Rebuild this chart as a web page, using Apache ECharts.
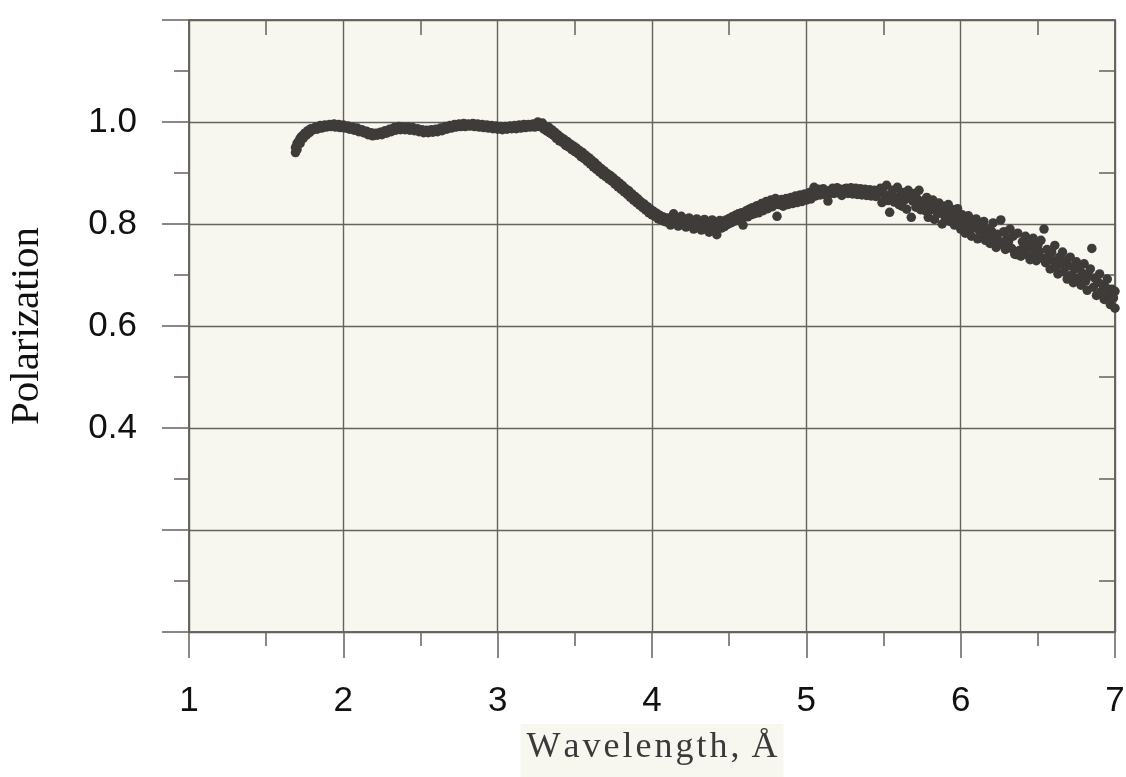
<!DOCTYPE html>
<html>
<head>
<meta charset="utf-8">
<title>Polarization vs Wavelength</title>
<script src="https://cdn.jsdelivr.net/npm/echarts@6/dist/echarts.min.js"></script>
<style>
  html, body { margin: 0; padding: 0; background: #ffffff; }
  #chart { width: 1126px; height: 777px; }
</style>
</head>
<body>
<div id="chart"></div>
<script>
// Measured polarization [wavelength (Å), polarization], grouped by spectral region.
const plateau = [
  [1.69,0.940],[1.69,0.950],[1.70,0.946],[1.70,0.958],[1.71,0.962],[1.72,0.968],[1.72,0.958],[1.73,0.972],
  [1.74,0.968],[1.75,0.978],[1.76,0.974],[1.77,0.983],[1.78,0.979],[1.79,0.987],[1.80,0.984],[1.82,0.990],
  [1.83,0.986],[1.85,0.993],[1.86,0.988],[1.88,0.994],[1.89,0.990],[1.91,0.995],[1.92,0.991],[1.94,0.996],
  [1.95,0.990],[1.97,0.995],[1.98,0.989],[2.00,0.994],[2.01,0.988],[2.03,0.992],[2.04,0.986],[2.06,0.990],
  [2.07,0.984],[2.09,0.988],[2.10,0.981],[2.12,0.985],[2.13,0.979],[2.15,0.982],[2.16,0.975],[2.18,0.979],
  [2.19,0.973],[2.21,0.978],[2.22,0.974],[2.24,0.980],[2.25,0.975],[2.27,0.983],[2.28,0.978],[2.30,0.986],
  [2.31,0.981],[2.33,0.989],[2.34,0.984],[2.36,0.991],[2.37,0.985],[2.39,0.990],[2.40,0.985],[2.42,0.990],
  [2.43,0.984],[2.45,0.989],[2.46,0.983],[2.48,0.987],[2.49,0.981],[2.51,0.985],[2.52,0.979],[2.54,0.984],
  [2.55,0.979],[2.57,0.985],[2.58,0.980],[2.60,0.986],[2.61,0.981],[2.63,0.988],[2.64,0.983],[2.66,0.991],
  [2.67,0.986],[2.69,0.993],[2.70,0.988],[2.72,0.995],[2.73,0.990],[2.75,0.996],[2.76,0.991],[2.78,0.997],
  [2.79,0.991],[2.81,0.996],[2.82,0.992],[2.84,0.997],[2.85,0.991],[2.87,0.996],[2.88,0.990],[2.90,0.995],
  [2.91,0.989],[2.93,0.994],[2.94,0.988],[2.96,0.993],[2.97,0.987],[2.99,0.992],[3.00,0.986],[3.02,0.991],
  [3.03,0.985],[3.05,0.991],[3.06,0.986],[3.08,0.992],[3.09,0.987],[3.11,0.993],[3.12,0.987],[3.14,0.994],
  [3.15,0.988],[3.17,0.995],[3.18,0.989],[3.20,0.995],[3.21,0.990],[3.23,0.996],[3.24,0.990],[3.26,1.000],
  [3.27,0.991],[3.29,0.998],[3.30,0.986],[3.31,0.990]
];

const decline = [
  [3.32,0.982],[3.33,0.990],[3.34,0.978],[3.35,0.985],[3.36,0.974],[3.37,0.980],[3.38,0.968],[3.39,0.975],
  [3.40,0.963],[3.41,0.970],[3.42,0.960],[3.43,0.966],[3.44,0.954],[3.45,0.962],[3.46,0.951],[3.47,0.957],
  [3.48,0.946],[3.49,0.953],[3.50,0.942],[3.51,0.949],[3.52,0.938],[3.53,0.944],[3.54,0.932],[3.55,0.940],
  [3.56,0.928],[3.57,0.935],[3.58,0.923],[3.59,0.930],[3.60,0.918],[3.61,0.925],[3.62,0.912],[3.63,0.920],
  [3.64,0.907],[3.65,0.914],[3.66,0.902],[3.67,0.909],[3.68,0.897],[3.69,0.904],[3.70,0.893],[3.71,0.899],
  [3.72,0.888],[3.73,0.895],[3.74,0.884],[3.75,0.890],[3.76,0.878],[3.77,0.885],[3.78,0.873],[3.79,0.880],
  [3.80,0.868],[3.81,0.875],[3.82,0.863],[3.83,0.869],[3.84,0.858],[3.85,0.865],[3.86,0.852],[3.87,0.859],
  [3.88,0.847],[3.89,0.854],[3.90,0.842],[3.91,0.849],[3.92,0.837],[3.93,0.843],[3.94,0.832],[3.95,0.839],
  [3.96,0.827],[3.97,0.834],[3.98,0.822],[3.99,0.829],[4.00,0.818],[4.01,0.825],[4.02,0.815],[4.03,0.821],
  [4.04,0.810],[4.05,0.817],[4.06,0.808],[4.07,0.814],[4.08,0.805],[4.09,0.812]
];

const hump = [
  [4.10,0.803],[4.11,0.812],[4.12,0.798],[4.13,0.808],[4.14,0.820],[4.15,0.802],[4.16,0.811],[4.17,0.796],
  [4.18,0.806],[4.19,0.815],[4.20,0.799],[4.21,0.808],[4.22,0.794],[4.23,0.804],[4.24,0.812],[4.25,0.797],
  [4.26,0.806],[4.27,0.790],[4.28,0.802],[4.29,0.810],[4.30,0.795],[4.31,0.805],[4.32,0.788],[4.33,0.800],
  [4.34,0.809],[4.35,0.794],[4.36,0.803],[4.37,0.784],[4.38,0.798],[4.39,0.808],[4.40,0.793],[4.41,0.802],
  [4.42,0.779],[4.43,0.797],[4.44,0.807],[4.45,0.792],[4.46,0.803],[4.47,0.795],[4.48,0.808],[4.49,0.799],
  [4.50,0.811],[4.51,0.802],[4.52,0.814],[4.53,0.805],[4.54,0.817],[4.55,0.807],[4.56,0.820],[4.57,0.810],
  [4.58,0.822],[4.59,0.798],[4.60,0.815],[4.61,0.826],[4.62,0.814],[4.63,0.829],[4.64,0.818],[4.65,0.832],
  [4.66,0.820],[4.67,0.827],[4.68,0.836],[4.69,0.822],[4.70,0.831],[4.71,0.840],[4.72,0.826],[4.73,0.835],
  [4.74,0.844],[4.75,0.830],[4.76,0.839],[4.77,0.847],[4.78,0.834],[4.79,0.842],[4.80,0.850],[4.81,0.815],
  [4.82,0.838],[4.83,0.846],[4.84,0.848],[4.85,0.835],[4.86,0.843],[4.87,0.850],[4.88,0.838],[4.89,0.846],
  [4.90,0.852],[4.91,0.840],[4.92,0.848],[4.93,0.855],[4.94,0.842],[4.95,0.850],[4.96,0.857],[4.97,0.844],
  [4.98,0.852],[4.99,0.859],[5.00,0.847],[5.01,0.855],[5.02,0.862],[5.03,0.849],[5.04,0.857],[5.05,0.872],
  [5.06,0.855],[5.07,0.862],[5.08,0.868],[5.09,0.857],[5.10,0.864],[5.11,0.869],[5.12,0.858],[5.13,0.865],
  [5.14,0.845],[5.15,0.859],[5.16,0.866],[5.17,0.870],[5.18,0.860],[5.19,0.867],[5.20,0.871],[5.21,0.861],
  [5.22,0.868],[5.23,0.856],[5.24,0.862],[5.25,0.869],[5.26,0.870],[5.27,0.860],[5.28,0.867],[5.29,0.871],
  [5.30,0.859],[5.31,0.866],[5.32,0.870],[5.33,0.858],[5.34,0.865],[5.35,0.869],[5.36,0.857],[5.37,0.864],
  [5.38,0.868],[5.39,0.856],[5.40,0.863],[5.41,0.867],[5.42,0.855],[5.43,0.862],[5.44,0.866],[5.45,0.854],
  [5.46,0.861],[5.47,0.865]
];

const tail = [
  [5.48,0.870],[5.49,0.842],[5.50,0.861],[5.51,0.852],[5.52,0.876],[5.53,0.846],[5.54,0.823],[5.55,0.858],
  [5.56,0.866],[5.57,0.843],[5.58,0.851],[5.59,0.872],[5.60,0.838],[5.61,0.856],[5.62,0.835],[5.63,0.862],
  [5.64,0.848],[5.65,0.829],[5.66,0.866],[5.67,0.852],[5.68,0.813],[5.69,0.845],[5.70,0.860],[5.71,0.833],
  [5.72,0.849],[5.73,0.866],[5.74,0.828],[5.75,0.843],[5.76,0.845],[5.77,0.826],[5.78,0.852],[5.79,0.813],
  [5.80,0.838],[5.81,0.828],[5.82,0.847],[5.83,0.809],[5.84,0.832],[5.85,0.820],[5.86,0.841],[5.87,0.826],
  [5.88,0.800],[5.89,0.835],[5.90,0.813],[5.91,0.823],[5.92,0.838],[5.93,0.805],[5.94,0.819],[5.95,0.828],
  [5.96,0.798],[5.97,0.814],[5.98,0.830],[5.99,0.803],[6.00,0.790],[6.01,0.818],[6.02,0.806],[6.03,0.782],
  [6.04,0.800],[6.05,0.816],[6.06,0.788],[6.07,0.776],[6.08,0.805],[6.09,0.793],[6.10,0.810],[6.11,0.771],
  [6.12,0.787],[6.13,0.798],[6.14,0.780],[6.15,0.805],[6.16,0.768],[6.17,0.790],[6.18,0.775],[6.19,0.762],
  [6.20,0.786],[6.21,0.802],[6.22,0.770],[6.23,0.754],[6.24,0.780],[6.25,0.766],[6.26,0.808],[6.27,0.760],
  [6.28,0.785],[6.29,0.750],[6.30,0.773],[6.31,0.765],[6.32,0.790],[6.33,0.752],[6.34,0.776],[6.35,0.741],
  [6.36,0.740],[6.37,0.782],[6.38,0.748],[6.39,0.737],[6.40,0.765],[6.41,0.752],[6.42,0.776],[6.43,0.740],
  [6.44,0.760],[6.45,0.730],[6.46,0.755],[6.47,0.772],[6.48,0.742],[6.49,0.728],[6.50,0.758],[6.51,0.746],
  [6.52,0.768],[6.53,0.733],[6.54,0.790],[6.55,0.724],[6.56,0.750],[6.57,0.738],[6.58,0.712],[6.59,0.745],
  [6.60,0.728],[6.61,0.758],[6.62,0.716],[6.63,0.702],[6.64,0.735],[6.65,0.722],[6.66,0.745],[6.67,0.706],
  [6.68,0.728],[6.69,0.692],[6.70,0.718],[6.71,0.735],[6.72,0.700],[6.73,0.685],[6.74,0.712],[6.75,0.726],
  [6.76,0.694],[6.77,0.715],[6.78,0.680],[6.79,0.703],[6.80,0.722],[6.81,0.688],[6.82,0.670],[6.83,0.698],
  [6.84,0.712],[6.85,0.752],[6.86,0.676],[6.87,0.694],[6.88,0.660],[6.89,0.686],[6.90,0.702],[6.91,0.667],
  [6.92,0.681],[6.93,0.652],[6.94,0.676],[6.95,0.692],[6.96,0.660],[6.97,0.642],[6.98,0.672],[6.99,0.655],
  [7.00,0.635],[7.00,0.668]
];

// Axis ranges and the tick labels that are printed.
const xRange = [1, 7];
const yRange = [0, 1.2];
const yLabelled = ['0.4', '0.6', '0.8', '1.0'];

const ink = '#3f3b39';
const rule = '#66625c';
const paper = '#f7f6ef';

const chart = echarts.init(document.getElementById('chart'), null, { renderer: 'canvas' });

const lineStyle = { color: rule, width: 1.5 };
const hair = '\u200A';

chart.setOption({
  backgroundColor: '#ffffff',
  animation: false,
  grid: {
    left: 189, top: 20, width: 926, height: 612,
    outerBoundsMode: 'none', containLabel: false,
    show: true, backgroundColor: paper, borderColor: rule, borderWidth: 1.5
  },
  xAxis: [
    {
      type: 'value', position: 'bottom', min: xRange[0], max: xRange[1], interval: 1,
      axisLine: { show: true, onZero: false, lineStyle },
      axisTick: { show: true, length: 26, lineStyle },
      minorTick: { show: true, splitNumber: 2, length: 14, lineStyle },
      splitLine: { show: true, lineStyle: { color: rule, width: 1.4 } },
      axisLabel: { margin: 52, fontSize: 35, fontFamily: 'Liberation Sans', color: '#111111' },
      name: ['W', 'a', 'v', 'e', 'l', 'e', 'n', 'g', 't', 'h', ',', ' Å'].join(hair),
      nameLocation: 'middle', nameGap: 83,
      nameTextStyle: {
        fontFamily: 'Liberation Serif', fontSize: 36, color: '#3a3a3a',
        backgroundColor: paper, padding: [6, 6, 24, 6]
      }
    },
    {
      type: 'value', position: 'top', min: xRange[0], max: xRange[1], interval: 1,
      axisLine: { show: true, onZero: false, lineStyle },
      axisTick: { show: true, inside: true, length: 1, lineStyle },
      minorTick: { show: true, splitNumber: 2, length: 15, lineStyle },
      splitLine: { show: false },
      axisLabel: { show: false }
    }
  ],
  yAxis: [
    {
      type: 'value', position: 'left', min: yRange[0], max: yRange[1], interval: 0.2,
      axisLine: { show: true, onZero: false, lineStyle },
      axisTick: { show: true, length: 27, lineStyle },
      minorTick: { show: true, splitNumber: 2, length: 15, lineStyle },
      splitLine: { show: true, lineStyle: { color: rule, width: 1.4 } },
      axisLabel: {
        margin: 52, fontSize: 35, fontFamily: 'Liberation Sans', color: '#111111',
        padding: [12, 0, 0, 0],
        formatter: v => { const s = v.toFixed(1); return yLabelled.includes(s) ? s : ''; }
      },
      name: 'Polarization', nameLocation: 'middle', nameGap: 141, nameRotate: 90,
      nameTextStyle: { fontFamily: 'Liberation Serif', fontSize: 41, color: '#111111' }
    },
    {
      type: 'value', position: 'right', min: yRange[0], max: yRange[1], interval: 0.2,
      axisLine: { show: true, onZero: false, lineStyle },
      axisTick: { show: true, inside: true, length: 1, lineStyle },
      minorTick: { show: true, splitNumber: 2, length: 16, lineStyle },
      splitLine: { show: false },
      axisLabel: { show: false }
    }
  ],
  series: [plateau, decline, hump, tail].map(data => ({
    type: 'scatter',
    xAxisIndex: 0, yAxisIndex: 0,
    data,
    symbol: 'circle',
    symbolSize: 9.5,
    itemStyle: { color: ink, opacity: 1 },
    silent: true
  }))
});
</script>
</body>
</html>
